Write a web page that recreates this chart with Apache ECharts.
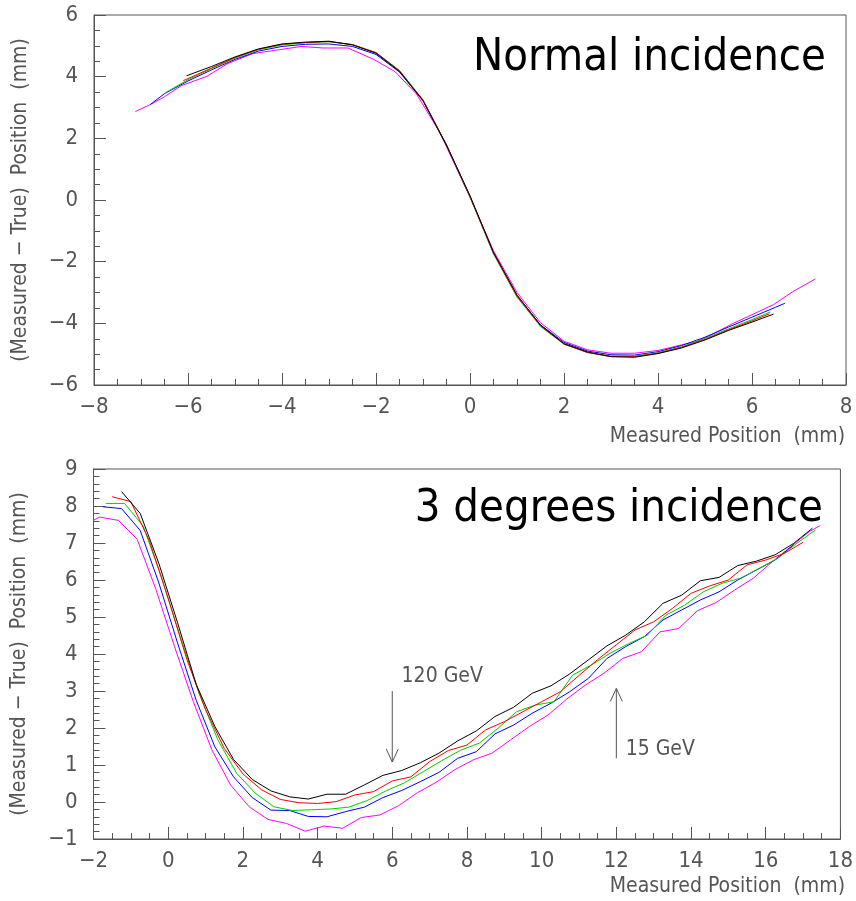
<!DOCTYPE html>
<html><head><meta charset="utf-8">
<script src="https://cdn.jsdelivr.net/npm/echarts@6/dist/echarts.min.js"></script>
<style>html,body{margin:0;padding:0;background:#fff}#c{width:856px;height:901px}</style>
</head><body><div id="c"></div>
<script>
// ---- tick values ----
const topXTicks = [-8,-6,-4,-2,0,2,4,6,8];
const topYTicks = [-6,-4,-2,0,2,4,6];
const botXTicks = [-2,0,2,4,6,8,10,12,14,16,18];
const botYTicks = [-1,0,1,2,3,4,5,6,7,8,9];

// ---- top panel: normal incidence ----
const topBlack = [[-6.03,4.03],[-5.5,4.33],[-5.0,4.64],[-4.5,4.90],[-4.0,5.06],[-3.5,5.12],[-3.0,5.15],[-2.5,5.03],[-2.0,4.76],[-1.5,4.17],[-1.0,3.22],[-0.5,1.78],[0.0,0.14],[0.5,-1.70],[1.0,-3.08],[1.5,-4.06],[2.0,-4.66],[2.5,-4.93],[3.0,-5.08],[3.5,-5.10],[4.0,-4.98],[4.5,-4.80],[5.0,-4.54],[5.5,-4.23],[6.0,-3.96],[6.46,-3.70]];
const topRed = [[-6.1,3.87],[-5.5,4.28],[-5.0,4.62],[-4.5,4.89],[-4.0,5.05],[-3.5,5.11],[-3.0,5.14],[-2.5,5.04],[-2.0,4.78],[-1.5,4.19],[-1.0,3.24],[-0.5,1.79],[0.0,0.12],[0.5,-1.72],[1.0,-3.12],[1.5,-4.08],[2.0,-4.67],[2.5,-4.95],[3.0,-5.08],[3.5,-5.08],[4.0,-4.97],[4.5,-4.78],[5.0,-4.52],[5.5,-4.21],[6.0,-3.92],[6.37,-3.69]];
const topGreen = [[-6.47,3.49],[-6.0,3.90],[-5.5,4.26],[-5.0,4.60],[-4.5,4.87],[-4.0,5.03],[-3.5,5.10],[-3.0,5.13],[-2.5,5.04],[-2.0,4.78],[-1.5,4.20],[-1.0,3.25],[-0.5,1.78],[0.0,0.10],[0.5,-1.75],[1.0,-3.15],[1.5,-4.10],[2.0,-4.68],[2.5,-4.94],[3.0,-5.06],[3.5,-5.06],[4.0,-4.95],[4.5,-4.76],[5.0,-4.49],[5.5,-4.18],[6.0,-3.88],[6.39,-3.63]];
const topBlue = [[-6.8,3.10],[-6.5,3.45],[-6.0,3.86],[-5.5,4.22],[-5.0,4.56],[-4.5,4.83],[-4.0,4.98],[-3.5,5.05],[-3.0,5.06],[-2.5,4.98],[-2.0,4.72],[-1.5,4.15],[-1.0,3.22],[-0.5,1.76],[0.0,0.10],[0.5,-1.72],[1.0,-3.10],[1.5,-4.05],[2.0,-4.62],[2.5,-4.90],[3.0,-5.02],[3.5,-5.03],[4.0,-4.92],[4.5,-4.72],[5.0,-4.45],[5.5,-4.12],[6.0,-3.80],[6.5,-3.48],[6.7,-3.35]];
const topMagenta = [[-7.12,2.87],[-6.78,3.11],[-6.5,3.35],[-6.14,3.71],[-5.6,4.01],[-5.15,4.43],[-4.62,4.75],[-4.12,4.86],[-3.59,4.98],[-3.13,4.93],[-2.6,4.93],[-2.06,4.57],[-1.6,4.17],[-1.14,3.44],[-0.64,2.19],[0.0,0.09],[0.5,-1.65],[1.0,-3.00],[1.5,-3.98],[2.0,-4.58],[2.5,-4.86],[3.0,-4.97],[3.5,-4.97],[4.0,-4.88],[4.5,-4.70],[4.82,-4.59],[5.2,-4.32],[5.6,-4.00],[6.0,-3.72],[6.45,-3.40],[6.87,-2.97],[7.35,-2.56]];

// ---- bottom panel: 3 degrees incidence ----
const botBlack = [[-1.25,8.39],[-0.75,7.80],[-0.25,6.45],[0.25,4.85],[0.75,3.18],[1.25,2.04],[1.75,1.15],[2.25,0.61],[2.75,0.30],[3.25,0.14],[3.75,0.08],[4.25,0.21],[4.75,0.21],[5.25,0.46],[5.75,0.72],[6.25,0.85],[6.75,1.06],[7.25,1.32],[7.75,1.65],[8.25,1.92],[8.75,2.31],[9.25,2.56],[9.75,2.94],[10.25,3.14],[10.75,3.46],[11.25,3.84],[11.75,4.22],[12.25,4.51],[12.75,4.87],[13.25,5.37],[13.75,5.59],[14.25,5.98],[14.75,6.07],[15.25,6.39],[15.75,6.51],[16.25,6.68],[16.75,6.99],[17.25,7.40]];
const botRed = [[-1.5,8.25],[-1.0,8.12],[-0.5,7.05],[0.0,5.5],[0.5,3.85],[1.0,2.5],[1.5,1.45],[2.0,0.76],[2.5,0.33],[3.0,0.07],[3.5,-0.02],[4.0,-0.04],[4.5,0.01],[5.0,0.19],[5.5,0.28],[6.0,0.57],[6.5,0.68],[7.0,1.09],[7.5,1.39],[8.0,1.54],[8.5,1.95],[9.0,2.17],[9.5,2.44],[10.0,2.71],[10.5,2.98],[11.0,3.42],[11.5,3.85],[12.0,4.25],[12.5,4.65],[13.0,4.87],[13.5,5.23],[14.0,5.64],[14.5,5.84],[15.0,6.00],[15.5,6.41],[16.0,6.54],[16.5,6.72],[17.0,7.02]];
const botGreen = [[-1.67,8.07],[-1.17,8.07],[-0.67,7.46],[-0.17,6.05],[0.33,4.45],[0.83,2.92],[1.33,1.68],[1.83,0.78],[2.33,0.24],[2.83,-0.13],[3.33,-0.23],[3.83,-0.21],[4.33,-0.19],[4.83,-0.14],[5.33,0.04],[5.83,0.30],[6.33,0.52],[6.83,0.82],[7.33,1.12],[7.83,1.40],[8.33,1.59],[8.83,1.99],[9.33,2.44],[9.83,2.62],[10.33,2.71],[10.83,3.43],[11.33,3.70],[11.83,4.02],[12.33,4.28],[12.83,4.51],[13.33,5.05],[13.83,5.32],[14.33,5.68],[14.83,5.91],[15.33,6.05],[15.83,6.32],[16.33,6.59],[16.83,6.99],[17.33,7.35]];
const botBlue = [[-1.75,7.98],[-1.25,7.93],[-0.75,7.34],[-0.25,5.92],[0.25,4.3],[0.75,2.75],[1.25,1.49],[1.75,0.68],[2.25,0.12],[2.75,-0.22],[3.25,-0.23],[3.75,-0.39],[4.25,-0.40],[4.75,-0.26],[5.25,-0.14],[5.75,0.12],[6.25,0.31],[6.75,0.55],[7.25,0.80],[7.75,1.18],[8.25,1.36],[8.75,1.84],[9.25,2.08],[9.75,2.40],[10.25,2.67],[10.75,2.98],[11.25,3.34],[11.75,3.88],[12.25,4.20],[12.75,4.47],[13.25,4.92],[13.75,5.19],[14.25,5.46],[14.75,5.68],[15.25,6.00],[15.75,6.27],[16.25,6.54],[16.75,6.95]];
const botMagenta = [[-2.33,7.45],[-1.83,7.70],[-1.33,7.61],[-0.83,7.10],[-0.33,5.75],[0.17,4.2],[0.67,2.72],[1.17,1.41],[1.67,0.46],[2.17,-0.13],[2.67,-0.47],[3.17,-0.58],[3.67,-0.79],[4.17,-0.65],[4.67,-0.71],[5.17,-0.42],[5.67,-0.35],[6.17,-0.10],[6.67,0.25],[7.17,0.53],[7.67,0.87],[8.17,1.14],[8.67,1.32],[9.17,1.68],[9.67,2.04],[10.17,2.35],[10.67,2.78],[11.17,3.16],[11.67,3.48],[12.17,3.88],[12.67,4.06],[13.17,4.60],[13.67,4.69],[14.17,5.17],[14.67,5.39],[15.17,5.73],[15.67,6.05],[16.17,6.49],[16.67,6.90],[17.17,7.31],[17.46,7.47]];

// annotations: [x, yFrom, yTo, labelX, labelY, text]
const arrows = [[6, 3.0, 1.08, 6.25, 3.38, '120 GeV'], [12, 1.18, 3.07, 12.25, 1.41, '15 GeV']];

const colors = ['#000000','#ff0000','#00d000','#0000ff','#ff00ff'];
const topSets = [topBlack, topRed, topGreen, topBlue, topMagenta];
const botSets = [botBlack, botRed, botGreen, botBlue, botMagenta];

const AX = '#555';
const FONT = '"DejaVu Sans Condensed","Liberation Sans Narrow","Liberation Sans",sans-serif';
const fmt = v => String(v).replace('-', '\u2212');

function xAxisDef(gi, ticks) {
  return {
    type: 'value', gridIndex: gi, min: ticks[0], max: ticks[ticks.length-1], interval: ticks[1]-ticks[0],
    axisLine: {show: true, onZero: false, lineStyle: {color: AX, width: 1}},
    axisTick: {show: true, inside: true, length: 12, lineStyle: {color: AX}},
    minorTick: {show: true, splitNumber: 4, length: 6, lineStyle: {color: AX}},
    splitLine: {show: false},
    axisLabel: {color: '#555', fontSize: 22, fontFamily: FONT, fontWeight: 'lighter', margin: 11, formatter: fmt}
  };
}
function yAxisDef(gi, ticks, minorSplit) {
  return {
    type: 'value', gridIndex: gi, min: ticks[0], max: ticks[ticks.length-1], interval: ticks[1]-ticks[0],
    name: '(Measured \u2212 True)  Position  (mm)', nameLocation: 'middle', nameGap: 63, nameRotate: 90,
    nameTextStyle: {color: '#555', fontSize: 21, fontFamily: FONT},
    axisLine: {show: true, onZero: false, lineStyle: {color: AX, width: 1}},
    axisTick: {show: true, inside: true, length: 12, lineStyle: {color: AX}},
    minorTick: {show: true, splitNumber: minorSplit, length: 6, lineStyle: {color: AX}},
    splitLine: {show: false},
    axisLabel: {color: '#555', fontSize: 22, fontFamily: FONT, margin: 16, formatter: fmt}
  };
}

const series = [];
topSets.forEach((d, i) => series.push({type: 'line', xAxisIndex: 0, yAxisIndex: 0, data: d, showSymbol: false, symbol: 'none', lineStyle: {color: colors[i], width: 1}, animation: false, z: 10 - i}));
botSets.forEach((d, i) => series.push({type: 'line', xAxisIndex: 1, yAxisIndex: 1, data: d, showSymbol: false, symbol: 'none', lineStyle: {color: colors[i], width: 1}, animation: false, z: 10 - i}));
series.push({
  type: 'custom', xAxisIndex: 1, yAxisIndex: 1, data: arrows, animation: false, clip: false,
  renderItem: function (params, api) {
    const d = arrows[params.dataIndex];
    const p0 = api.coord([d[0], d[1]]);
    const p1 = api.coord([d[0], d[2]]);
    const dir = p1[1] > p0[1] ? 1 : -1;
    const lp = api.coord([d[3], d[4]]);
    const st = {stroke: AX, lineWidth: 1, fill: null};
    return {type: 'group', children: [
      {type: 'line', shape: {x1: p0[0], y1: p0[1], x2: p1[0], y2: p1[1]}, style: st},
      {type: 'polyline', shape: {points: [[p1[0]-6, p1[1]-dir*13], [p1[0], p1[1]], [p1[0]+6, p1[1]-dir*13]]}, style: st},
      {type: 'text', x: lp[0], y: lp[1], style: {text: d[5], fill: '#555', font: '21px ' + FONT, textAlign: 'left', textVerticalAlign: 'middle'}}
    ]};
  }
});

const TFONT = '45px "DejaVu Sans Condensed","Liberation Sans",sans-serif';
const option = {
  backgroundColor: '#fff',
  animation: false,
  grid: [
    {left: 94, top: 15, width: 752, height: 370, show: true, borderColor: AX, borderWidth: 1},
    {left: 93.5, top: 469, width: 750, height: 370, show: true, borderColor: AX, borderWidth: 1}
  ],
  xAxis: [xAxisDef(0, topXTicks), xAxisDef(1, botXTicks)],
  yAxis: [yAxisDef(0, topYTicks, 4), yAxisDef(1, botYTicks, 5)],
  series: series,
  graphic: [
    {type: 'text', right: 11, top: 426, style: {text: 'Measured Position  (mm)', fill: '#555', font: '21px ' + FONT}},
    {type: 'text', right: 11, top: 876, style: {text: 'Measured Position  (mm)', fill: '#555', font: '21px ' + FONT}},
    {type: 'text', right: 30, top: 36, style: {text: 'Normal incidence', fill: '#000', font: TFONT}},
    {type: 'text', right: 33, top: 487, style: {text: '3 degrees incidence', fill: '#000', font: TFONT}}
  ]
};
const chart = echarts.init(document.getElementById('c'), null, {renderer: 'canvas'});
chart.setOption(option);
</script></body></html>
